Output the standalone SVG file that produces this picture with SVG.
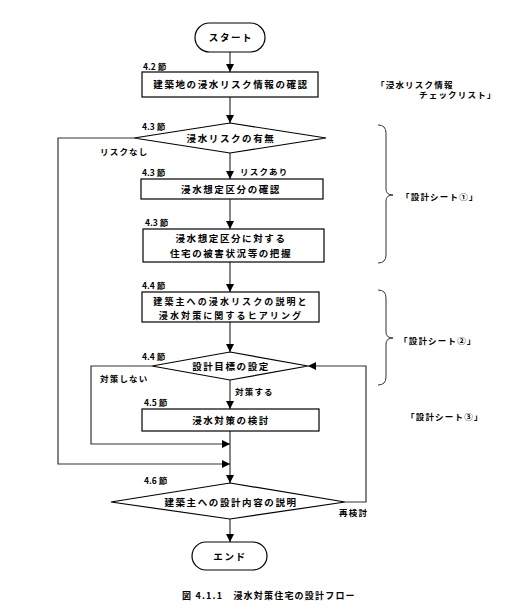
<svg xmlns="http://www.w3.org/2000/svg" width="516" height="612" viewBox="0 0 516 612">
<defs>
<marker id="ah" viewBox="0 0 8 8" refX="8" refY="4" markerWidth="8" markerHeight="8" markerUnits="userSpaceOnUse" orient="auto">
<path d="M0,0 L8,4 L0,8 Z" fill="#000"/>
</marker>
</defs>
<style>
text{font-family:"Noto Sans CJK JP","Noto Sans",sans-serif;fill:#000}
.n{font-size:9.5px;font-weight:bold;letter-spacing:1.6px;text-anchor:middle}
.m{font-size:9px;font-weight:bold;letter-spacing:2.1px;text-anchor:middle}
.s{font-size:8.5px;font-weight:bold}
.l{font-size:8.5px;font-weight:bold;letter-spacing:1.2px}
.b{fill:#fff;stroke:#000;stroke-width:1.2}
.c{fill:none;stroke:#333;stroke-width:1.2}
.br{fill:none;stroke:#333;stroke-width:1}
</style>
<rect width="516" height="612" fill="#fff"/>
<g id="connectors">
<line class="c" x1="230" y1="52" x2="230" y2="72" marker-end="url(#ah)"/>
<line class="c" x1="230" y1="97" x2="230" y2="123" marker-end="url(#ah)"/>
<line class="c" x1="230" y1="153" x2="230" y2="179" marker-end="url(#ah)"/>
<line class="c" x1="230" y1="199" x2="230" y2="229" marker-end="url(#ah)"/>
<line class="c" x1="230" y1="262" x2="230" y2="292" marker-end="url(#ah)"/>
<line class="c" x1="230" y1="322" x2="230" y2="352" marker-end="url(#ah)"/>
<line class="c" x1="230" y1="380" x2="230" y2="409" marker-end="url(#ah)"/>
<line class="c" x1="230" y1="431" x2="230" y2="483" marker-end="url(#ah)"/>
<line class="c" x1="230" y1="519" x2="230" y2="542" marker-end="url(#ah)"/>
<path class="c" d="M134,138 H58 V464 H230" marker-end="url(#ah)"/>
<path class="c" d="M152,366 H91 V444 H230" marker-end="url(#ah)"/>
<path class="c" d="M345,502 H366 V366 H308" marker-end="url(#ah)"/>
</g>
<g id="start">
<rect class="b" x="195" y="23" width="70" height="29" rx="14.5"/>
<text class="n" x="231" y="41">スタート</text>
</g>
<g id="n1">
<text class="s" x="143" y="70">4.2 節</text>
<rect class="b" x="142" y="72" width="176" height="25"/>
<text class="n" x="231" y="88">建築地の浸水リスク情報の確認</text>
</g>
<g id="d1">
<text class="s" x="142" y="130">4.3 節</text>
<polygon class="b" points="230,123 326,138 230,153 134,138"/>
<text class="n" x="231" y="142">浸水リスクの有無</text>
<text class="l" x="100" y="155">リスクなし</text>
<text class="l" x="240" y="175">リスクあり</text>
</g>
<g id="n2">
<text class="s" x="142" y="176">4.3 節</text>
<rect class="b" x="141" y="179" width="182" height="20"/>
<text class="n" x="231" y="193">浸水想定区分の確認</text>
</g>
<g id="n3">
<text class="s" x="145" y="226">4.3 節</text>
<rect class="b" x="143" y="229" width="181" height="33"/>
<text class="n" x="231" y="242">浸水想定区分に対する</text>
<text class="n" x="231" y="257">住宅の被害状況等の把握</text>
</g>
<g id="n4">
<text class="s" x="142" y="289">4.4 節</text>
<rect class="b" x="142" y="292" width="177" height="30"/>
<text class="m" x="231" y="305">建築主への浸水リスクの説明と</text>
<text class="m" x="231" y="318.5">浸水対策に関するヒアリング</text>
</g>
<g id="d2">
<text class="s" x="142" y="360">4.4 節</text>
<polygon class="b" points="230,352 308,366 230,380 152,366"/>
<text class="n" x="231" y="370">設計目標の設定</text>
<text class="l" x="100" y="382">対策しない</text>
<text class="l" x="235" y="395">対策する</text>
</g>
<g id="n5">
<text class="s" x="144" y="406">4.5 節</text>
<rect class="b" x="142" y="409" width="177" height="22"/>
<text class="n" x="231" y="424">浸水対策の検討</text>
</g>
<g id="d3">
<text class="s" x="144" y="484">4.6 節</text>
<polygon class="b" points="230,483 345,502 230,519 111,502"/>
<text class="n" x="231" y="506">建築主への設計内容の説明</text>
<text class="l" x="339" y="516">再検討</text>
</g>
<g id="end">
<rect class="b" x="192" y="542" width="75" height="28" rx="14"/>
<text class="n" x="230" y="560">エンド</text>
</g>
<g id="notes">
<text class="l" x="376" y="88">「浸水リスク情報</text>
<text class="l" x="419" y="98">チェックリスト」</text>
<path class="br" d="M378,125 Q386,125 386,133 V189 Q386,195 393,195 Q386,195 386,201 V255 Q386,263 378,263"/>
<text class="l" x="401" y="200">「設計シート①」</text>
<path class="br" d="M378,290 Q386,290 386,298 V332 Q386,338 393,338 Q386,338 386,344 V377 Q386,385 378,385"/>
<text class="l" x="399" y="344">「設計シート②」</text>
<text class="l" x="406" y="420">「設計シート③」</text>
</g>
<text class="l" x="182" y="599" style="font-size:9px">図 4.1.1　浸水対策住宅の設計フロー</text>
</svg>
